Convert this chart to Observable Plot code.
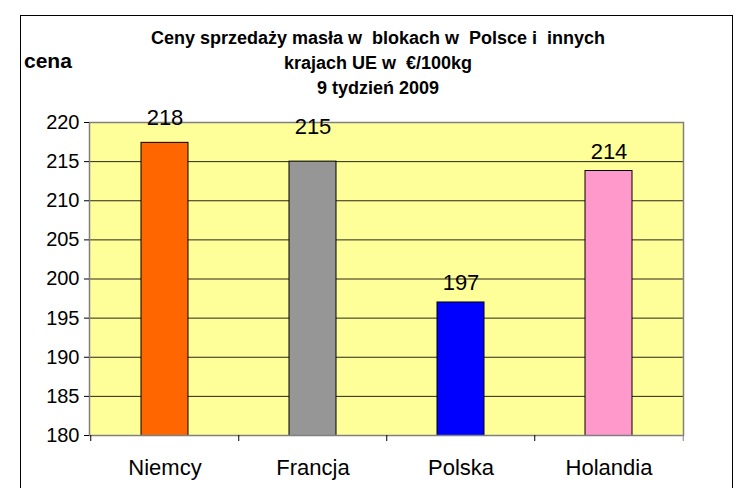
<!DOCTYPE html>
<html>
<head>
<meta charset="utf-8">
<script src="https://cdn.jsdelivr.net/npm/d3@7"></script>
<script src="https://cdn.jsdelivr.net/npm/@observablehq/plot@0.6"></script>
<style>
  html, body { margin: 0; padding: 0; background: #fff; }
  #wrap { position: relative; width: 738px; height: 488px; overflow: hidden; font-family: "Liberation Sans", Arial, sans-serif; }
  #frame { position: absolute; left: 20px; top: 15px; width: 713px; height: 500px; border: 1.5px solid #000; box-sizing: border-box; }
  #title { position: absolute; left: 80px; width: 596px; top: 26px; text-align: center; font-weight: bold; font-size: 18px; line-height: 25px; color: #000; white-space: pre; }
  #ylab { position: absolute; left: 24px; top: 49px; font-weight: bold; font-size: 21px; color: #000; }
  #chart { position: absolute; left: 0; top: 0; }
</style>
</head>
<body>
<div id="wrap">
  <div id="frame"></div>
  <div id="chart"></div>
  <div id="title"></div>
  <div id="ylab"></div>
</div>
<script>
const titleLines = ["Ceny sprzedaży masła w  blokach w  Polsce i  innych", "krajach UE w  €/100kg", "9 tydzień 2009"];
const yAxisLabel = "cena";
const countries = ["Niemcy", "Francja", "Polska", "Holandia"];
const prices = [217.4, 215.0, 197.0, 213.8];
const valueLabels = ["218", "215", "197", "214"];
const barColors = ["#FF6600", "#969696", "#0000FF", "#FF99CC"];
const yTicks = [180, 185, 190, 195, 200, 205, 210, 215, 220];
const yDomain = [180, 220];

document.getElementById("title").textContent = titleLines.join("\n");
document.getElementById("ylab").textContent = yAxisLabel;

const data = countries.map((c, i) => ({country: c, price: prices[i], label: valueLabels[i], color: barColors[i]}));

const W = 738, H = 488;
const mL = 89, mR = 55, mT = 122, mB = 53;
const band = (W - mL - mR) / countries.length;
// label offsets (style): Excel placed first two labels a bit higher
const labelDy = [-18, -28, -12, -12];

const plot = Plot.plot({
  width: W, height: H,
  marginLeft: mL, marginRight: mR, marginTop: mT, marginBottom: mB,
  style: {fontFamily: "Liberation Sans, Arial, sans-serif", background: "transparent", overflow: "visible"},
  x: {domain: countries, paddingInner: 0.683, paddingOuter: 0.3415, axis: null, label: null},
  y: {domain: yDomain, axis: null, label: null},
  marks: [
    Plot.frame({fill: "#FFFF99", stroke: "none"}),
    Plot.gridY(yTicks, {stroke: "#000", strokeOpacity: 0.85, strokeWidth: 1}),
    Plot.barY(data, {x: "country", y: "price", fill: "color", stroke: "#000", strokeWidth: 1, clip: true}),
    Plot.frame({stroke: "#808080", strokeWidth: 1.5}),
    Plot.axisY(yTicks, {tickSize: 5, tickPadding: 5, fontSize: 20, stroke: "#000", fill: "#000", label: null, tickFormat: d => String(d)}),
    Plot.ruleX(countries, {x: d => d, dx: -band / 2, y1: yDomain[0], y2: yDomain[0], insetBottom: -6, stroke: "#000"}),
    Plot.ruleX([countries[countries.length - 1]], {x: d => d, dx: band / 2, y1: yDomain[0], y2: yDomain[0], insetBottom: -6, stroke: "#808080"}),
    Plot.axisX({tickSize: 0, tickPadding: 24, fontSize: 22, fill: "#000", label: null}),
    ...data.map((d, i) => Plot.text([d], {x: "country", y: "price", text: "label", lineAnchor: "bottom", dy: labelDy[i], fontSize: 22, fill: "#000"}))
  ]
});
document.getElementById("chart").appendChild(plot);
</script>
</body>
</html>
